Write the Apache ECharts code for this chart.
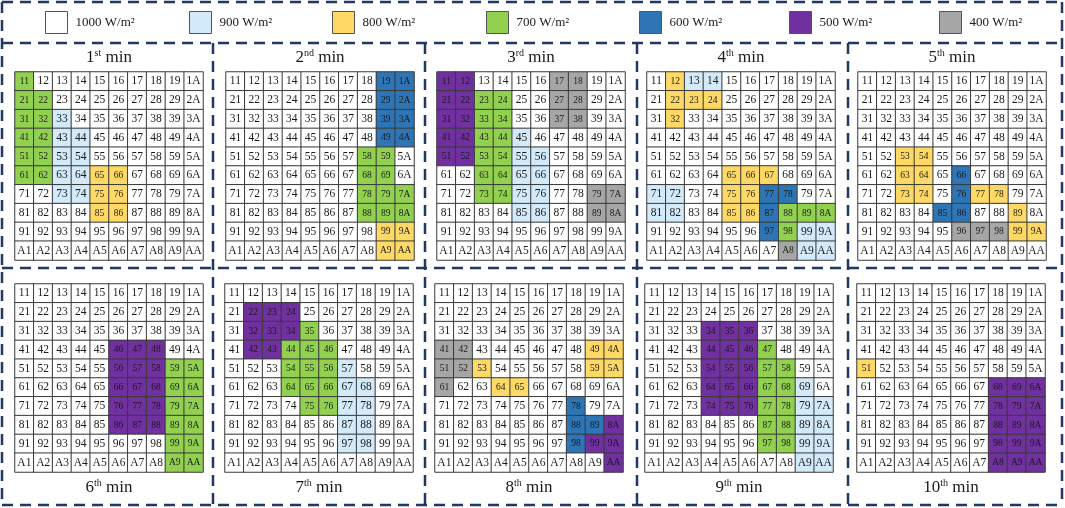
<!DOCTYPE html>
<html><head><meta charset="utf-8">
<script src="https://cdn.jsdelivr.net/npm/echarts@6/dist/echarts.min.js"></script>
<style>html,body{margin:0;padding:0;background:#fff}#c{width:1065px;height:508px}</style>
</head><body><div id="c"></div>
<script>
// ---- data ----
const levels = [1000, 900, 800, 700, 600, 500, 400];
const levelCodes = ['W', 'L', 'Y', 'G', 'B', 'P', 'R'];
const levelNames = ['1000 W/m²', '900 W/m²', '800 W/m²', '700 W/m²', '600 W/m²', '500 W/m²', '400 W/m²'];
const rowLabels = ['1', '2', '3', '4', '5', '6', '7', '8', '9', 'A'];
const colLabels = ['1', '2', '3', '4', '5', '6', '7', '8', '9', 'A'];
const minuteNums = ['1', '2', '3', '4', '5', '6', '7', '8', '9', '10'];
const minuteSup = ['st', 'nd', 'rd', 'th', 'th', 'th', 'th', 'th', 'th', 'th'];

const min1 = ['GWWWWWWWWW','GGWWWWWWWW','GGLWWWWWWW','GGLLWWWWWW','GGLLWWWWWW','GGLLYYWWWW','WWLLYYWWWW','WWWWYYWWWW','WWWWWWWWWW','WWWWWWWWWW'];
const min2 = ['WWWWWWWWBB','WWWWWWWWBB','WWWWWWWWBB','WWWWWWWWBB','WWWWWWWGGW','WWWWWWWGGW','WWWWWWWGGG','WWWWWWWGGG','WWWWWWWWYY','WWWWWWWWYY'];
const min3 = ['PPWWWWRRWW','PPGGWWRRWW','PPGGWWRRWW','PPGGLWWWWW','PPGGLLWWWW','WWGGLLWWWW','WWGGLLWWRR','WWWWLLWWRR','WWWWWWWWWW','WWWWWWWWWW'];
const min4 = ['WYLLWWWWWW','WYYYWWWWWW','WYWWWWWWWW','WWWWWWWWWW','WWWWWWWWWW','WWWWYYYWWW','LLWWYYBBWW','LLWWYYBGGG','WWWWWWBGLL','WWWWWWWRLL'];
const min5 = ['WWWWWWWWWW','WWWWWWWWWW','WWWWWWWWWW','WWWWWWWWWW','WWYYWWWWWW','WWYYWBWWWW','WWYYWBYYWW','WWWWBBWWYW','WWWWWRRRYY','WWWWWWWWWW'];
const min6 = ['WWWWWWWWWW','WWWWWWWWWW','WWWWWWWWWW','WWWWWPPPWW','WWWWWPPPGG','WWWWWPPPGG','WWWWWPPPGG','WWWWWPPPGG','WWWWWWWWGG','WWWWWWWWGG'];
const min7 = ['WWWWWWWWWW','WPPPWWWWWW','WPPPGWWWWW','WPPGGGWWWW','WWWGGGLWWW','WWWGGGLLWW','WWWWGGLLWW','WWWWWWLLWW','WWWWWWLLWW','WWWWWWWWWW'];
const min8 = ['WWWWWWWWWW','WWWWWWWWWW','WWWWWWWWWW','RRWWWWWWYY','RRYWWWWWYY','RWWYYWWWWW','WWWWWWWBWW','WWWWWWWBBP','WWWWWWWBPP','WWWWWWWWWP'];
const min9 = ['WWWWWWWWWW','WWWWWWWWWW','WWWPPPWWWW','WWWPPPGWWW','WWWPPPGGWW','WWWPPPGGLW','WWWPPPGGLL','WWWWWWGGLL','WWWWWWGGLL','WWWWWWWWLL'];
const min10 = ['WWWWWWWWWW','WWWWWWWWWW','WWWWWWWWWW','WWWWWWWWWW','YWWWWWWWWW','WWWWWWWPPP','WWWWWWWPPP','WWWWWWWPPP','WWWWWWWPPP','WWWWWWWPPP'];
const panels = [min1, min2, min3, min4, min5, min6, min7, min8, min9, min10];

// ---- styles / layout ----
const levelColors = ['#ffffff', '#d2eafa', '#ffd966', '#92d050', '#2e75b6', '#7030a0', '#a6a6a6'];
const FONT = 'Liberation Serif';
const gridLefts = [15, 226, 437, 647, 858, 15, 225, 435, 645, 857];
const gridTops = [72, 72, 72, 72, 72, 284, 284, 284, 284, 284];
const GS = 188;
const legendLefts = [45, 189, 332, 486, 639, 789, 939];
const dashColor = '#1f3864';

const grids = [], xAxes = [], yAxes = [], series = [], graphics = [];
panels.forEach((rows, p) => {
  grids.push({ left: gridLefts[p], top: gridTops[p], width: GS, height: GS });
  xAxes.push({ type: 'category', gridIndex: p, data: colLabels, show: false });
  yAxes.push({ type: 'category', gridIndex: p, data: rowLabels, inverse: true, show: false });
  const data = [];
  rows.forEach((row, r) => {
    row.split('').forEach((code, c) => {
      const v = levels[levelCodes.indexOf(code)];
      data.push({ value: [c, r, v], label: { fontSize: (v === 1000 || v === 900) ? 11.5 : 9.5 } });
    });
  });
  series.push({
    type: 'heatmap', xAxisIndex: p, yAxisIndex: p, data: data,
    itemStyle: { borderColor: '#3a3a3a', borderWidth: 1, opacity: 1 },
    label: {
      show: true, color: '#1a1a1a', fontFamily: FONT,
      formatter: (pr) => rowLabels[pr.value[1]] + colLabels[pr.value[0]]
    },
    emphasis: { disabled: true }, silent: true, animation: false
  });
  const cx = gridLefts[p] + GS / 2;
  const cy = p < 5 ? 58 : 488;
  graphics.push({
    type: 'text', x: cx, y: cy, silent: true,
    style: {
      text: '{b|' + minuteNums[p] + '}{s|' + minuteSup[p] + '}{b| min}',
      align: 'center', verticalAlign: 'middle',
      rich: {
        b: { fontFamily: FONT, fontSize: 17, lineHeight: 20, fill: '#1a1a1a' },
        s: { fontFamily: FONT, fontSize: 10, lineHeight: 12, verticalAlign: 'top', fill: '#1a1a1a' }
      }
    }
  });
});

// legend dummy series
levelNames.forEach((n, i) => {
  series.push({ type: 'scatter', name: n, xAxisIndex: 0, yAxisIndex: 0, data: [],
    itemStyle: { color: levelColors[i], borderColor: '#555', borderWidth: 1, opacity: 1 } });
});
const legends = levelNames.map((n, i) => ({
  left: legendLefts[i], top: 11, padding: 0, selectedMode: false,
  itemWidth: 22, itemHeight: 22, itemGap: 5,
  data: [{ name: n, icon: 'rect', itemStyle: { color: levelColors[i], borderColor: '#555', borderWidth: 1, opacity: 1 } }],
  textStyle: { fontFamily: FONT, fontSize: 13, color: '#1a1a1a', padding: [0, 0, 0, 3] }
}));

// dashed frames
const dash = { stroke: dashColor, lineWidth: 2.5, lineDash: [11, 7], fill: null };
graphics.push({ type: 'line', shape: { x1: 2, y1: 2, x2: 1062, y2: 2 }, style: dash, silent: true });
[43, 268, 505].forEach(y => graphics.push({ type: 'line', shape: { x1: 2, y1: y, x2: 1062, y2: y }, style: dash, silent: true }));
[2, 1062].forEach(x => graphics.push({ type: 'line', shape: { x1: x, y1: 2, x2: x, y2: 505 }, style: dash, silent: true }));
[213, 425, 637, 848].forEach(x => graphics.push({ type: 'line', shape: { x1: x, y1: 43, x2: x, y2: 505 }, style: dash, silent: true }));

const chart = echarts.init(document.getElementById('c'), null, { renderer: 'canvas' });
chart.setOption({
  backgroundColor: '#fff',
  animation: false,
  grid: grids, xAxis: xAxes, yAxis: yAxes,
  visualMap: {
    type: 'piecewise', show: false, dimension: 2, seriesIndex: [0,1,2,3,4,5,6,7,8,9],
    pieces: levels.map((v, i) => ({ value: v, color: levelColors[i] }))
  },
  legend: legends,
  series: series,
  graphic: graphics
});
</script></body></html>
